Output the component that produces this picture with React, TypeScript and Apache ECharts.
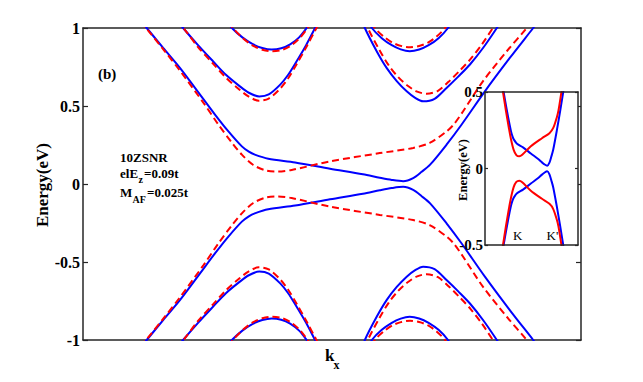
import React, { useEffect, useRef } from "react";
import * as echarts from "echarts";

// k_x in arbitrary units (0..100 across the main panel), energy in eV
const blueGapUpper: [number, number][] = [
  [11.5, 1.05], [12.8, 1.0], [16.1, 0.872], [19.5, 0.743], [23.5, 0.573], [26.5, 0.445],
  [29.2, 0.337], [31.9, 0.241], [33.3, 0.207], [34.5, 0.188], [37.2, 0.162], [42.6, 0.138],
  [49.6, 0.098], [56.2, 0.062], [59.6, 0.04], [62.0, 0.026], [64.3, 0.018], [66.3, 0.038],
  [68.0, 0.078], [69.7, 0.124], [73.0, 0.252], [76.0, 0.38], [80.7, 0.594], [85.7, 0.808],
  [90.4, 1.0], [91.6, 1.05],
];
const blueGapLower: [number, number][] = [
  [11.5, -1.05], [12.8, -1.0], [16.1, -0.872], [19.5, -0.743], [23.5, -0.573], [26.5, -0.445],
  [29.2, -0.337], [31.9, -0.241], [33.3, -0.207], [34.5, -0.188], [37.2, -0.162], [42.6, -0.138],
  [49.6, -0.098], [56.2, -0.062], [59.6, -0.04], [62.0, -0.026], [64.3, -0.018], [66.3, -0.038],
  [68.0, -0.078], [69.7, -0.124], [73.0, -0.252], [76.0, -0.38], [80.7, -0.594], [85.7, -0.808],
  [90.4, -1.0], [91.6, -1.05],
];
const redGapUpper: [number, number][] = [
  [11.5, 1.04], [12.9, 0.99], [16.2, 0.86], [19.5, 0.725], [24.2, 0.52], [27.2, 0.38],
  [29.9, 0.265], [31.9, 0.188], [34.2, 0.122], [36.6, 0.088], [39.2, 0.08], [41.9, 0.09],
  [49.6, 0.145], [59.6, 0.198], [66.3, 0.231], [69.7, 0.265], [73.0, 0.337], [74.4, 0.38],
  [76.3, 0.465], [80.3, 0.658], [85.1, 0.851], [89.1, 1.0], [90.3, 1.05],
];
const redGapLower: [number, number][] = [
  [11.5, -1.04], [12.9, -0.99], [16.2, -0.86], [19.5, -0.725], [24.2, -0.52], [27.2, -0.38],
  [29.9, -0.265], [31.9, -0.188], [34.2, -0.122], [36.6, -0.088], [39.2, -0.08], [41.9, -0.09],
  [49.6, -0.145], [59.6, -0.198], [66.3, -0.231], [69.7, -0.265], [73.0, -0.337], [74.4, -0.38],
  [76.3, -0.465], [80.3, -0.658], [85.1, -0.851], [89.1, -1.0], [90.3, -1.05],
];

const blueSecondLeftUpper: [number, number][] = [
  [18.6, 1.06], [20.1, 1.0], [23.1, 0.89], [26.1, 0.787], [28.7, 0.7], [31.5, 0.626],
  [33.3, 0.585], [35.4, 0.561], [37.3, 0.574], [39.6, 0.637], [41.2, 0.7], [42.9, 0.787],
  [44.8, 0.89], [46.6, 1.0], [47.6, 1.06],
];
const blueSecondLeftLower: [number, number][] = [
  [18.6, -1.06], [20.1, -1.0], [23.1, -0.89], [26.1, -0.787], [28.7, -0.7], [31.5, -0.626],
  [33.3, -0.585], [35.4, -0.561], [37.3, -0.574], [39.6, -0.637], [41.2, -0.7], [42.9, -0.787],
  [44.8, -0.89], [46.6, -1.0], [47.6, -1.06],
];
const redSecondLeftUpper: [number, number][] = [
  [18.8, 1.05], [20.3, 0.995], [23.1, 0.878], [26.1, 0.772], [28.7, 0.682], [31.5, 0.603],
  [33.3, 0.56], [35.3, 0.534], [37.3, 0.548], [39.6, 0.612], [41.2, 0.678], [42.9, 0.768],
  [44.8, 0.875], [46.8, 0.995], [47.8, 1.05],
];
const redSecondLeftLower: [number, number][] = [
  [18.8, -1.05], [20.3, -0.995], [23.1, -0.878], [26.1, -0.772], [28.7, -0.682], [31.5, -0.603],
  [33.3, -0.56], [35.3, -0.534], [37.3, -0.548], [39.6, -0.612], [41.2, -0.678], [42.9, -0.768],
  [44.8, -0.875], [46.8, -0.995], [47.8, -1.05],
];

const blueThirdLeftUpper: [number, number][] = [
  [29.0, 1.04], [29.9, 1.0], [32.0, 0.94], [34.0, 0.898], [36.0, 0.872], [37.9, 0.862],
  [39.8, 0.87], [41.6, 0.895], [43.4, 0.94], [44.9, 1.0], [45.7, 1.04],
];
const blueThirdLeftLower: [number, number][] = [
  [29.0, -1.04], [29.9, -1.0], [32.0, -0.94], [34.0, -0.898], [36.0, -0.872], [37.9, -0.862],
  [39.8, -0.87], [41.6, -0.895], [43.4, -0.94], [44.9, -1.0], [45.7, -1.04],
];
const redThirdLeftUpper: [number, number][] = [
  [29.2, 1.04], [30.1, 1.0], [32.1, 0.935], [34.0, 0.889], [36.0, 0.861], [37.95, 0.851],
  [39.9, 0.859], [41.7, 0.886], [43.5, 0.935], [45.1, 1.0], [45.9, 1.04],
];
const redThirdLeftLower: [number, number][] = [
  [29.2, -1.04], [30.1, -1.0], [32.1, -0.935], [34.0, -0.889], [36.0, -0.861], [37.95, -0.851],
  [39.9, -0.859], [41.7, -0.886], [43.5, -0.935], [45.1, -1.0], [45.9, -1.04],
];

const blueSecondRightUpper: [number, number][] = [
  [56.1, 1.06], [56.6, 1.0], [59.0, 0.85], [61.0, 0.743], [63.0, 0.66], [65.0, 0.594],
  [66.7, 0.552], [68.3, 0.53], [70.6, 0.546], [73.0, 0.616], [75.4, 0.69], [77.7, 0.766],
  [80.4, 0.875], [83.1, 1.0], [84.1, 1.05],
];
const blueSecondRightLower: [number, number][] = [
  [56.1, -1.06], [56.6, -1.0], [59.0, -0.85], [61.0, -0.743], [63.0, -0.66], [65.0, -0.594],
  [66.7, -0.552], [68.3, -0.53], [70.6, -0.546], [73.0, -0.616], [75.4, -0.69], [77.7, -0.766],
  [80.4, -0.875], [83.1, -1.0], [84.1, -1.05],
];
const redSecondRightUpper: [number, number][] = [
  [56.8, 1.05], [57.2, 1.0], [59.5, 0.86], [61.4, 0.76], [63.3, 0.685], [65.2, 0.63],
  [67.1, 0.592], [69.0, 0.579], [71.2, 0.596], [73.4, 0.655], [75.6, 0.725], [77.8, 0.8],
  [80.1, 0.895], [82.3, 1.0], [83.3, 1.05],
];
const redSecondRightLower: [number, number][] = [
  [56.8, -1.05], [57.2, -1.0], [59.5, -0.86], [61.4, -0.76], [63.3, -0.685], [65.2, -0.63],
  [67.1, -0.592], [69.0, -0.579], [71.2, -0.596], [73.4, -0.655], [75.6, -0.725], [77.8, -0.8],
  [80.1, -0.895], [82.3, -1.0], [83.3, -1.05],
];

const blueThirdRightUpper: [number, number][] = [
  [57.5, 1.04], [58.0, 1.0], [60.0, 0.935], [62.0, 0.89], [63.8, 0.863], [65.6, 0.851],
  [67.5, 0.862], [69.4, 0.89], [71.4, 0.935], [73.3, 1.0], [73.9, 1.04],
];
const blueThirdRightLower: [number, number][] = [
  [57.5, -1.04], [58.0, -1.0], [60.0, -0.935], [62.0, -0.89], [63.8, -0.863], [65.6, -0.851],
  [67.5, -0.862], [69.4, -0.89], [71.4, -0.935], [73.3, -1.0], [73.9, -1.04],
];
const redThirdRightUpper: [number, number][] = [
  [58.1, 1.04], [58.6, 1.0], [60.4, 0.945], [62.2, 0.905], [64.0, 0.884], [65.7, 0.877],
  [67.5, 0.885], [69.2, 0.905], [71.0, 0.945], [72.7, 1.0], [73.3, 1.04],
];
const redThirdRightLower: [number, number][] = [
  [58.1, -1.04], [58.6, -1.0], [60.4, -0.945], [62.2, -0.905], [64.0, -0.884], [65.7, -0.877],
  [67.5, -0.885], [69.2, -0.905], [71.0, -0.945], [72.7, -1.0], [73.3, -1.04],
];

const mainKRange = [0, 100];
const mainERange = [-1, 1];
const insetKRange = [8.5, 91.9];
const insetERange = [-0.5, 0.5];

const blueBands = [
  blueGapUpper, blueGapLower, blueSecondLeftUpper, blueSecondLeftLower,
  blueThirdLeftUpper, blueThirdLeftLower, blueSecondRightUpper, blueSecondRightLower,
  blueThirdRightUpper, blueThirdRightLower,
];
const redBands = [
  redGapUpper, redGapLower, redSecondLeftUpper, redSecondLeftLower,
  redThirdLeftUpper, redThirdLeftLower, redSecondRightUpper, redSecondRightLower,
  redThirdRightUpper, redThirdRightLower,
];
const insetBlue = [blueGapUpper, blueGapLower];
const insetRed = [redGapUpper, redGapLower];

const BLUE = "#0000ff";
const RED = "#ff0000";
const AXIS = "#262626";
const SERIF = "Liberation Serif";

function line(data: [number, number][], color: string, dashed: boolean, axisIdx: number, z: number) {
  return {
    type: "line",
    data,
    xAxisIndex: axisIdx,
    yAxisIndex: axisIdx,
    showSymbol: false,
    symbol: "none",
    smooth: 0.3,
    clip: true,
    silent: true,
    z,
    lineStyle: { color, width: 2, type: dashed ? [7, 4] : "solid" },
  };
}

function txt(text: string, x: number, y: number, size: number, bold = true, extra: any = {}, align = "left") {
  return {
    type: "text",
    x,
    y,
    z: 20,
    silent: true,
    style: {
      text,
      fill: "#000",
      fontSize: size,
      fontWeight: bold ? "bold" : "normal",
      fontFamily: SERIF,
      align,
      verticalAlign: "middle",
      textAlign: align,
      textVerticalAlign: "middle",
    },
    ...extra,
  };
}

export default function App() {
  const ref = useRef<HTMLDivElement>(null);
  useEffect(() => {
    if (!ref.current) return;
    const chart = echarts.init(ref.current, undefined, { renderer: "svg" });
    const hAxis = (grid: number, pos: string, range: number[], z: number) => ({
      type: "value",
      gridIndex: grid,
      position: pos,
      min: range[0],
      max: range[1],
      z,
      axisLine: { show: true, onZero: false, lineStyle: { color: AXIS, width: 1.5 } },
      axisTick: { show: false },
      axisLabel: { show: false },
      splitLine: { show: false },
    });
    const vAxis = (grid: number, pos: string, range: number[], z: number, labels: boolean, fs: number, tickLen: number, margin: number) => ({
      type: "value",
      gridIndex: grid,
      position: pos,
      min: range[0],
      max: range[1],
      interval: 0.5,
      z,
      axisLine: { show: true, onZero: false, lineStyle: { color: AXIS, width: 1.5 } },
      axisTick: { show: true, inside: true, length: tickLen, lineStyle: { color: AXIS, width: 1.2 } },
      axisLabel: {
        show: labels,
        fontFamily: SERIF,
        fontWeight: "bold",
        fontSize: fs,
        color: "#000",
        margin,
      },
      splitLine: { show: false },
    });
    const series: any[] = [];
    blueBands.forEach((b) => series.push(line(b, BLUE, false, 0, 2)));
    redBands.forEach((b) => series.push(line(b, RED, true, 0, 3)));
    insetBlue.forEach((b) => series.push(line(b, BLUE, false, 2, 6)));
    insetRed.forEach((b) => series.push(line(b, RED, false, 2, 7)));

    chart.setOption({
      animation: false,
      backgroundColor: "#ffffff",
      grid: [
        { left: 83, top: 28, width: 498, height: 312, show: false },
        { left: 485, top: 92, width: 93, height: 153, show: false },
      ],
      xAxis: [
        hAxis(0, "bottom", mainKRange, 1),
        hAxis(0, "top", mainKRange, 1),
        hAxis(1, "bottom", insetKRange, 9),
        hAxis(1, "top", insetKRange, 9),
      ],
      yAxis: [
        vAxis(0, "left", mainERange, 1, true, 16, 5, 3),
        vAxis(0, "right", mainERange, 1, false, 16, 5, 3),
        vAxis(1, "left", insetERange, 9, true, 15, 3, 2),
        vAxis(1, "right", insetERange, 9, false, 15, 3, 2),
      ],
      graphic: [
        {
          type: "rect",
          z: 5,
          silent: true,
          shape: { x: 485, y: 92, width: 93, height: 153 },
          style: { fill: "#ffffff" },
        },
        txt("Energy(eV)", 42, 185, 17, true, { rotation: Math.PI / 2 }, "center"),
        txt("Energy(eV)", 463, 170, 12.5, true, { rotation: Math.PI / 2 }, "center"),
        txt("(b)", 98, 74, 15),
        txt("10ZSNR", 120, 157, 13),
        txt("elE", 120, 173.5, 13),
        txt("z", 138.5, 179.5, 10),
        txt("=0.09t", 144, 173.5, 13),
        txt("M", 120, 192.8, 13),
        txt("AF", 132.5, 199.2, 10),
        txt("=0.025t", 147, 192.8, 13),
        txt("k", 325, 355.7, 17),
        txt("x", 333.5, 365, 12),
        txt("K", 513, 235.5, 13, false),
        txt("K'", 546.5, 235.5, 13, false),
      ],
      series,
    });
    return () => chart.dispose();
  }, []);
  return (
    <div
      ref={ref}
      style={{ position: "fixed", left: 0, top: 0, width: 643, height: 382, background: "#fff" }}
    />
  );
}
